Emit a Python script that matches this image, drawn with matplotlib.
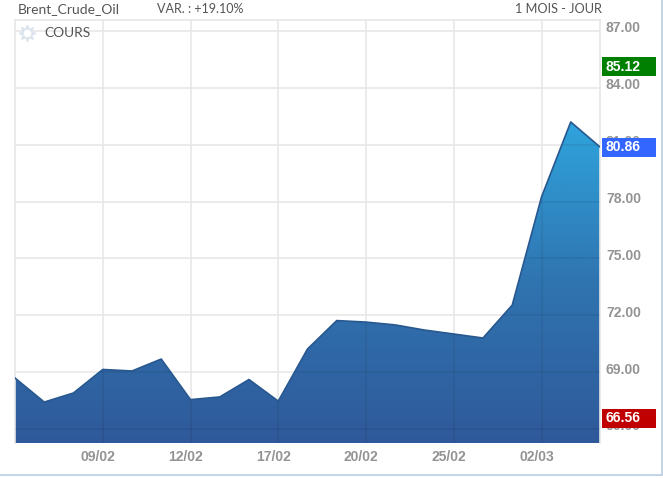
import matplotlib
matplotlib.use('Agg')
import matplotlib.pyplot as plt
from matplotlib.colors import LinearSegmentedColormap
from matplotlib.patches import Polygon, Rectangle
import numpy as np

W = 663
H = 478

prices = [68.69, 67.42, 67.90, 69.14, 69.06, 69.69, 67.55, 67.69, 68.61, 67.47, 70.22,
          71.72, 71.64, 71.49, 71.22, 71.01, 70.80, 72.54, 78.24, 82.20, 80.88]
date_pos = [3, 6, 9, 12, 15, 18]
date_labels = ['09/02', '12/02', '17/02', '20/02', '25/02', '02/03']
price_ticks = [66, 69, 72, 75, 78, 81, 84, 87]
price_labels = ['66.00', '69.00', '72.00', '75.00', '78.00', '81.00', '84.00', '87.00']
badge_values = [85.12, 80.86, 66.56]
badge_labels = ['85.12', '80.86', '66.56']
badge_colors = ['#008000', '#3366ff', '#c00000']

y_min = 65.26
y_max = 87.58

plt.rcParams['font.family'] = ['Liberation Sans', 'DejaVu Sans']
fig = plt.figure(figsize=(W / 100, H / 100), dpi=100)
ax = fig.add_axes([15 / W, 1 - 443 / H, 585 / W, 423 / H])

# degrade du haut de la courbe vers le bas
cmap = LinearSegmentedColormap.from_list('cours', ['#30599a', '#2f74b0', '#2fa4dd'])
grad = np.linspace(0, 1, 256).reshape(-1, 1)
im = ax.imshow(grad, cmap=cmap, origin='lower', aspect='auto',
               extent=[0, len(prices) - 1, y_min, max(prices)], zorder=1)
x = np.arange(len(prices))
poly = Polygon(list(zip(x, prices)) + [(x[-1], y_min), (0, y_min)], closed=True,
               transform=ax.transData, facecolor='none', edgecolor='none')
ax.add_patch(poly)
im.set_clip_path(poly)
ax.set_xlim(0, len(prices) - 1)
ax.set_ylim(y_min, y_max)
ax.plot(x, prices, color='#28588f', lw=1.2, zorder=4)

ax.set_xticks(date_pos)
ax.set_yticks(price_ticks)
ax.grid(True, color='#e8e8e8', lw=1.2, zorder=0)
ax.set_axisbelow(True)
ax.tick_params(length=0, labelbottom=False, labelleft=False)

# sur le remplissage la grille est juste un peu plus sombre
for p in date_pos:
    l = ax.axvline(p, color='black', alpha=0.07, lw=1.2, zorder=3)
    l.set_clip_path(poly)
for v in price_ticks:
    l = ax.axhline(v, color='black', alpha=0.07, lw=1.2, zorder=3)
    l.set_clip_path(poly)

for s in ['top', 'left', 'right']:
    ax.spines[s].set_color('#e6e6e6')
    ax.spines[s].set_linewidth(1.2)
ax.spines['bottom'].set_visible(False)

# etiquettes
for p, lab in zip(date_pos, date_labels):
    ax.annotate(lab, (p, y_min), xytext=(-5, -14), textcoords='offset pixels', ha='center',
                va='center', fontsize=10, color='#808080', fontweight='bold', alpha=0.85)
for v, lab in zip(price_ticks, price_labels):
    ax.annotate(lab, (1, v), xycoords=ax.get_yaxis_transform(), xytext=(6, 2.5),
                textcoords='offset pixels', ha='left', va='center', fontsize=10,
                color='#808080', fontweight='bold', alpha=0.85, zorder=4)

bh = 18.5 / (423 / (y_max - y_min))
for v, lab, c in zip(badge_values, badge_labels, badge_colors):
    ax.add_patch(Rectangle((1 + 2 / 585, v - bh / 2), 54 / 585, bh, facecolor=c, edgecolor='none',
                           transform=ax.get_yaxis_transform(), clip_on=False, zorder=5))
    ax.annotate(lab, (1, v), xycoords=ax.get_yaxis_transform(), xytext=(6, 0),
                textcoords='offset pixels', ha='left', va='center', fontsize=10,
                color='white', fontweight='bold', zorder=6, annotation_clip=False)

top_font = ['Lato', 'DejaVu Sans']
fig.text(18 / W, 1 - 9 / H, 'Brent_Crude_Oil', fontsize=10, color='#555555', va='center', family=top_font)
fig.text(157 / W, 1 - 9 / H, 'VAR. : +19.10%', fontsize=9, color='#555555', va='center', family=top_font)
fig.text(602 / W, 1 - 9 / H, '1 MOIS - JOUR', fontsize=9.2, color='#555555', va='center', ha='right', family=top_font)
fig.text(44 / W, 1 - 33 / H, 'COURS', fontsize=9.9, color='#555555', va='center', family=top_font, zorder=5)
fig.add_artist(plt.Line2D([27 / W], [1 - 33 / H], marker=(8, 1, 0), ms=12, mfc='#dbe4ed', mec='#dbe4ed', lw=0, zorder=5))
fig.add_artist(plt.Line2D([27 / W], [1 - 33 / H], marker='o', ms=4.5, mfc='white', mec='white', lw=0, zorder=6))

# cadre bleu clair bas et droite
fig.add_artist(plt.Line2D([0, 1], [1 - 474.5 / H, 1 - 474.5 / H], color='#c3d4e6', lw=1.4))
fig.add_artist(plt.Line2D([661.5 / W, 661.5 / W], [1 - 474.5 / H, 1], color='#c3d4e6', lw=1.4))

fig.savefig('out.png', dpi=100)
